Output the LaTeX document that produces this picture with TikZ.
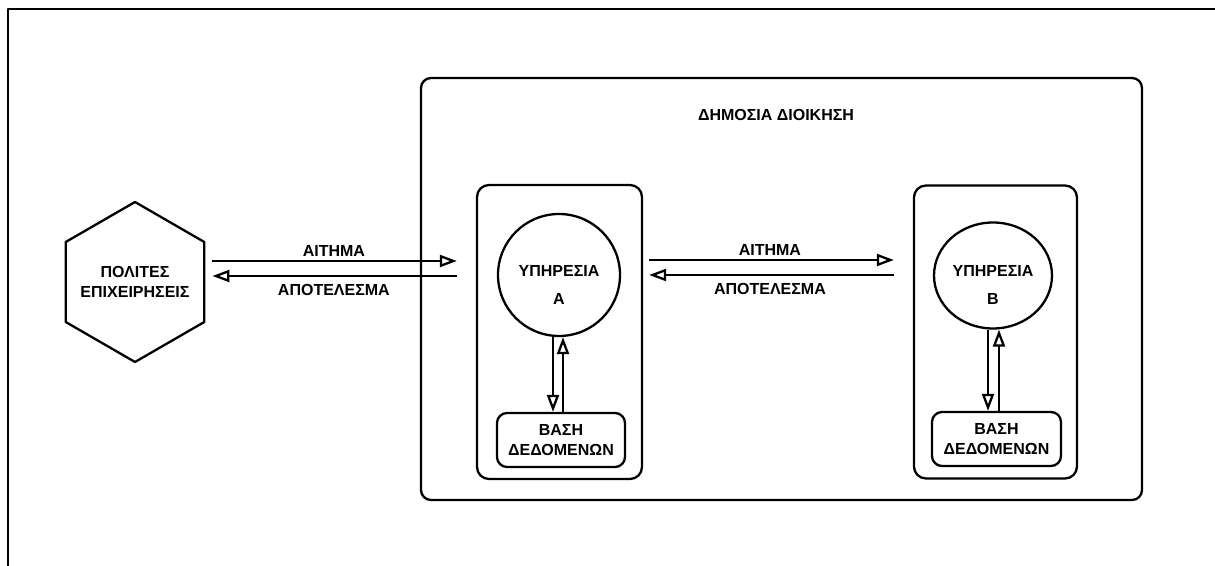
\documentclass[tikz,border=0pt]{standalone}
\usepackage{fontspec}
\setmainfont{Liberation Sans}
\usetikzlibrary{arrows.meta,shapes.geometric}
\begin{document}
\begin{tikzpicture}[x=1pt, y=1pt, line join=round, line width=2.3pt,
		>={Triangle[open, length=17pt, width=12pt]},
		font=\bfseries\fontsize{16}{20}\selectfont,
		box/.style={draw, rounded corners=10pt, inner sep=0pt},
		lbl/.style={align=center, inner sep=0pt}]
	\useasboundingbox (0,0) rectangle (1215,565);
	\clip (0,0) rectangle (1215,565);
	\draw[line width=2.6pt] (8,-10)--(8,556)--(1230,556);
	% public administration
	\node[box, minimum width=721pt, minimum height=422pt] (admin) at (781.5,276) {};
	\node (title) at (776,450) {ΔΗΜΟΣΙΑ ΔΙΟΙΚΗΣΗ};
	\node[box, rounded corners=12pt, minimum width=165pt, minimum height=294pt] (boxA) at (559.5,233) {};
	\node[box, rounded corners=12pt, minimum width=163pt, minimum height=293pt] (boxB) at (995.5,233) {};
	\node[draw, circle, minimum size=122pt, inner sep=0pt,
		label={[lbl, yshift=-10pt]center:ΥΠΗΡΕΣΙΑ\\[8pt]Α}] (srvA) at (559,290) {};
	\node[draw, ellipse, minimum width=118pt, minimum height=106pt, inner sep=0pt,
		label={[lbl, yshift=-9pt]center:ΥΠΗΡΕΣΙΑ\\[8pt]Β}] (srvB) at (993,289.5) {};
	\node[box, minimum width=128pt, minimum height=54pt, lbl] (dbA) at (561,125) {ΒΑΣΗ\\ΔΕΔΟΜΕΝΩΝ};
	\node[box, minimum width=129pt, minimum height=54pt, lbl] (dbB) at (996.5,126) {ΒΑΣΗ\\ΔΕΔΟΜΕΝΩΝ};
	% citizens
	\node[draw, regular polygon, regular polygon sides=6, shape border rotate=30, minimum size=160pt, inner sep=0pt,
		label={[lbl]center:ΠΟΛΙΤΕΣ\\ΕΠΙΧΕΙΡΗΣΕΙΣ}] (hex) at (135,283) {};
	\draw[->, shorten <=7pt, shorten >=19pt] ([yshift=21pt]hex.east)--([yshift=21pt]hex.east -| boxA.west) node[pos=0.475, above, inner sep=3pt]{ΑΙΤΗΜΑ};
	\draw[->, shorten <=19pt, shorten >=7pt] ([yshift=6pt]hex.east -| boxA.west)--([yshift=6pt]hex.east) node[pos=0.525, below, inner sep=7pt]{ΑΠΟΤΕΛΕΣΜΑ};
	\draw[->, shorten <=6pt, shorten >=19pt] ([yshift=72pt]boxA.east)--([yshift=72pt]boxB.west) node[pos=0.47, above, inner sep=3pt]{ΑΙΤΗΜΑ};
	\draw[->, shorten <=19pt, shorten >=6pt] ([yshift=57pt]boxB.west)--([yshift=57pt]boxA.east) node[pos=0.53, below, inner sep=7pt]{ΑΠΟΤΕΛΕΣΜΑ};
	% databases
	\draw[->] ([xshift=-6pt]srvA.south)--([xshift=-6pt]srvA.south |- dbA.north);
	\draw[->] ([xshift=4pt]srvA.south |- dbA.north)--([xshift=4pt]srvA.south);
	\draw[->] ([xshift=-5pt]srvB.south)--([xshift=-5pt]srvB.south |- dbB.north);
	\draw[->] ([xshift=6pt]srvB.south |- dbB.north)--([xshift=6pt]srvB.south);
\end{tikzpicture}
\end{document}
